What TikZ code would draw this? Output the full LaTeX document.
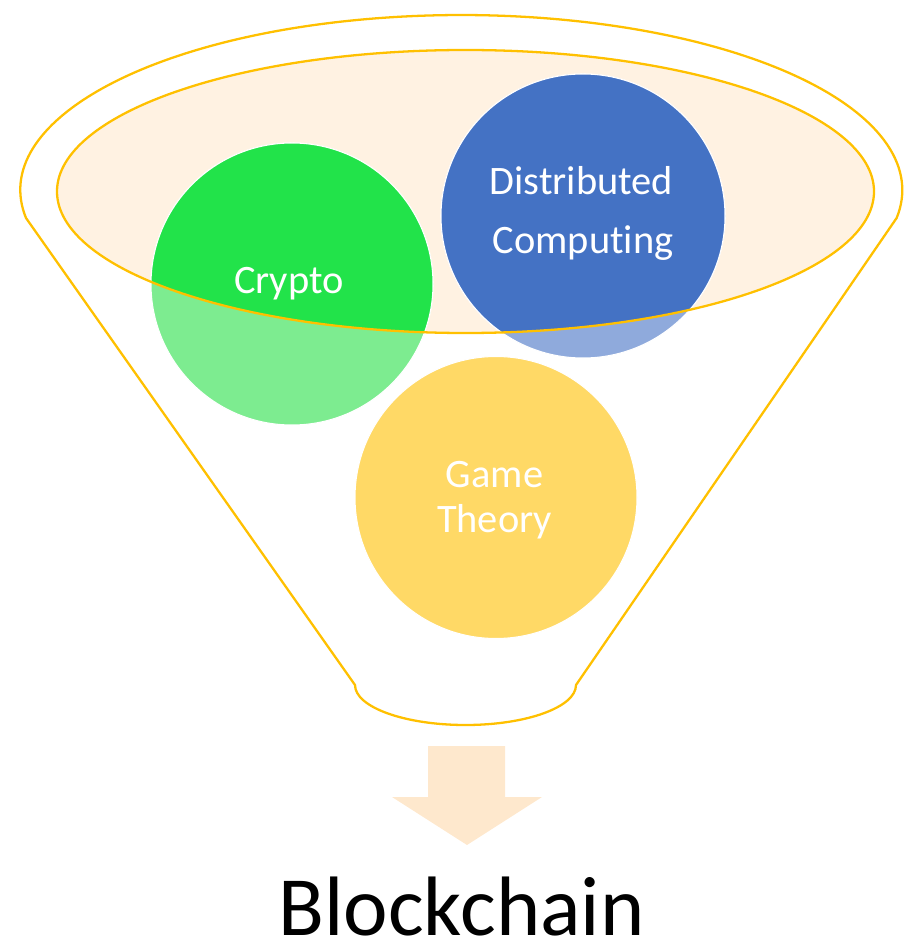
\documentclass[tikz,border=0pt]{standalone}
\usepackage{fontspec}
\setmainfont{Carlito}[Ligatures=NoCommon]
\definecolor{funnelgold}{HTML}{FFC000}
\definecolor{funnelcream}{HTML}{FFF2E2}
\definecolor{arrowpeach}{HTML}{FEE8CD}
\definecolor{cryptogreen}{HTML}{22E34A}
\definecolor{cryptolight}{HTML}{7DEC90}
\definecolor{distblue}{HTML}{4472C4}
\definecolor{distlight}{HTML}{8FAADC}
\definecolor{gameyellow}{HTML}{FFD966}
\tikzset{
	rim/.style={draw=funnelgold, line width=1.3pt, line join=round},
	ball/.style={draw=white, line width=0.6pt},
	balltext/.style={text=white, anchor=base, inner sep=0pt, font=\fontsize{23}{27}\selectfont},
}
\def\mouth{(465.5,191.5) ellipse[x radius=408.5, y radius=141.5]}

\begin{document}
\begin{tikzpicture}[x=0.02cm, y=-0.02cm]
		%%%%% START %%%%%
		\useasboundingbox (0,0) rectangle (903,945);
		
		% funnel outline
		\draw[rim] (26,218) arc[start angle=170.8, end angle=369.2, x radius=441, y radius=175]
			-- (576,685) arc[start angle=0, end angle=180, x radius=110.5, y radius=40] -- cycle;
		
		% mouth of the funnel
		\fill[funnelcream] \mouth;
		
		% the three balls, pale below the mouth
		\path[ball, fill=cryptolight] (292,284) circle[radius=141];
		\path[ball, fill=distlight] (583,216) circle[radius=142];
		\path[ball, fill=gameyellow] (496,497.5) circle[radius=141];
		
		\begin{scope}
			\clip \mouth;
			\path[ball, fill=cryptogreen] (292,284) circle[radius=141];
			\path[ball, fill=distblue] (583,216) circle[radius=142];
		\end{scope}
		
		\draw[rim] \mouth;
		
		% labels
		\node[balltext] (crypto) at (289,294) {Crypto};
		\node[balltext] (distributed) at (581.5,195) {Distributed};
		\node[balltext] (computing) at (583,254) {Computing};
		\node[balltext] (game) at (494.5,487) {Game};
		\node[balltext] (theory) at (494.5,532) {Theory};
		
		% arrow down to the result
		\fill[arrowpeach] (428,746) -- (505,746) -- (505,797) -- (542,797) -- (467,845)
			-- (392,797) -- (428,797) -- cycle;
		
		\node[anchor=base, inner sep=0pt, text depth=0pt, font=\fontsize{48}{58}\selectfont] (blockchain) at (461.5,935) {Blockchain};
		
		%%%%% END %%%%%
\end{tikzpicture}
\end{document}
